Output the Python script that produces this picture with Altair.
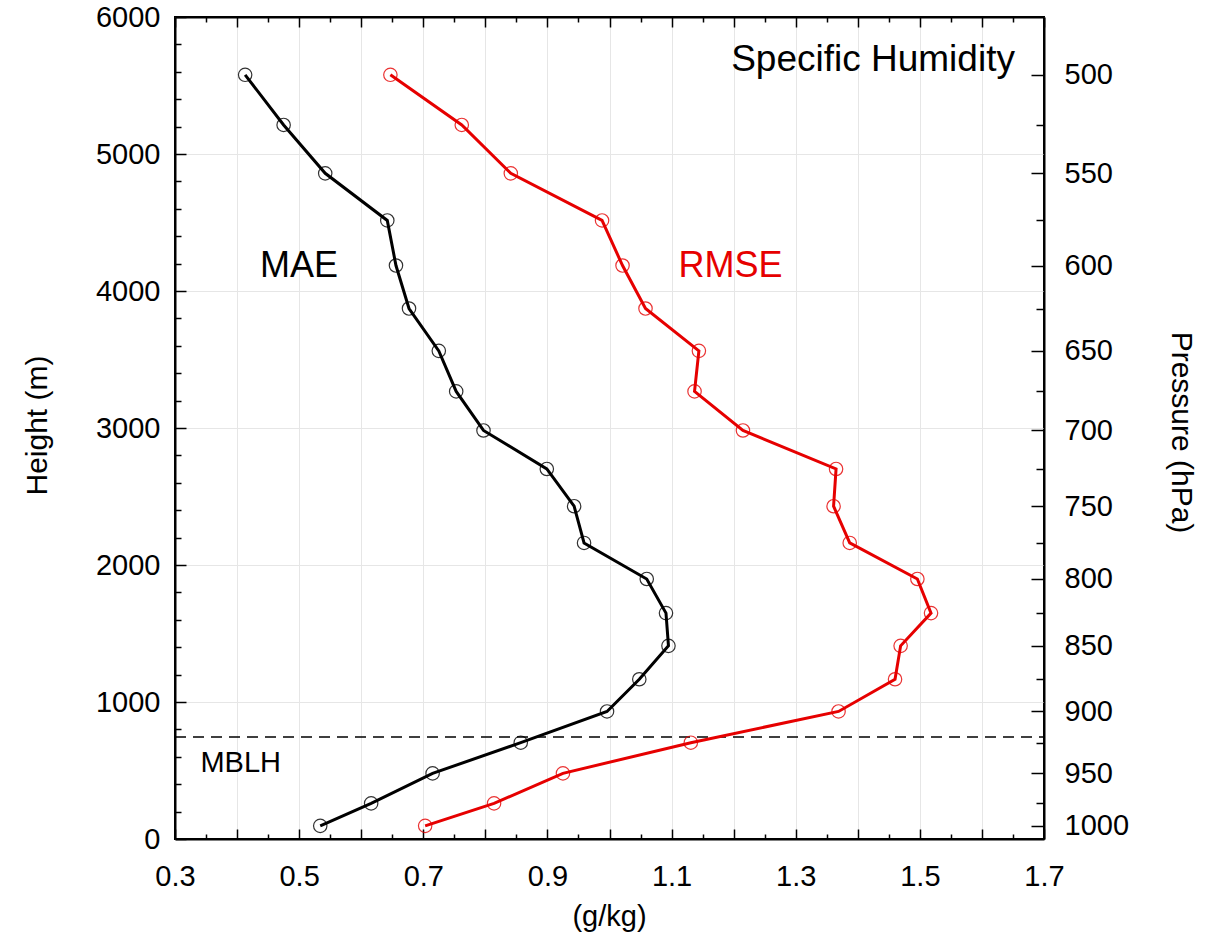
import altair as alt
import pandas as pd

# ---------------- data ----------------
pressure_levels = [500, 525, 550, 575, 600, 625, 650, 675, 700, 725, 750,
                   775, 800, 825, 850, 875, 900, 925, 950, 975, 1000]
heights = [5578, 5212, 4859, 4515, 4186, 3872, 3563, 3267, 2982, 2701, 2429,
           2161, 1898, 1649, 1410, 1166, 931, 703, 479, 260, 96]
mae = [0.413, 0.475, 0.542, 0.642, 0.656, 0.677, 0.725, 0.753, 0.797, 0.899, 0.943,
       0.959, 1.060, 1.091, 1.095, 1.048, 0.996, 0.857, 0.715, 0.616, 0.534]
rmse = [0.647, 0.762, 0.841, 0.988, 1.021, 1.058, 1.144, 1.137, 1.215, 1.365, 1.361,
        1.387, 1.496, 1.518, 1.469, 1.460, 1.369, 1.131, 0.925, 0.814, 0.703]
mblh = 745

x_ticks = [0.3, 0.35, 0.4, 0.45, 0.5, 0.55, 0.6, 0.65, 0.7, 0.75, 0.8, 0.85, 0.9, 0.95,
           1.0, 1.05, 1.1, 1.15, 1.2, 1.25, 1.3, 1.35, 1.4, 1.45, 1.5, 1.55, 1.6, 1.65, 1.7]
y_ticks = [0, 200, 400, 600, 800, 1000, 1200, 1400, 1600, 1800, 2000, 2200, 2400, 2600,
           2800, 3000, 3200, 3400, 3600, 3800, 4000, 4200, 4400, 4600, 4800, 5000,
           5200, 5400, 5600, 5800, 6000]

labels_text = ["Specific Humidity", "MAE", "RMSE", "MBLH"]
labels_x = [1.196, 0.437, 1.111, 0.341]
labels_y = [5607, 4099, 4099, 491]
labels_size = [37, 36, 36, 29]
labels_color = ["black", "black", "#e60000", "black"]

FONT = "Liberation Sans"
RED = "#e60000"

rows = []
for h, p, a, r in zip(heights, pressure_levels, mae, rmse):
    rows.append({"series": "MAE", "height": h, "pressure": p, "value": a})
    rows.append({"series": "RMSE", "height": h, "pressure": p, "value": r})
df = pd.DataFrame(rows)
lev_df = pd.DataFrame({"height": heights, "pressure": pressure_levels, "x": [0.3] * len(heights)})
txt_df = pd.DataFrame({"text": labels_text, "x": labels_x, "y": labels_y,
                       "size": labels_size, "color": labels_color})
mblh_df = pd.DataFrame({"y": [mblh], "x0": [0.3], "x1": [1.7]})

xs = alt.Scale(domain=[0.3, 1.7], nice=False, zero=False)
ys = alt.Scale(domain=[0, 6000], nice=False, zero=False)

x_axis = alt.Axis(
    values=x_ticks, tickCount=200,
    labelExpr="round(datum.value*100) % 20 == 10 ? format(datum.value, '.1f') : ''",
    tickSize={"expr": "round(datum.value*100) % 10 == 0 ? -10 : -5"},
    labelPadding=33, labelOverlap=False, labelFlush=False,
    grid=True, gridColor="#e6e6e6", gridWidth=1,
    gridOpacity={"condition": {"test": "round(datum.value*100) % 10 == 0", "value": 1}, "value": 0},
    domainColor="black", domainWidth=2, tickColor="black", tickWidth=1.5,
    labelFont=FONT, labelFontSize=29, labelColor="black",
    title="(g/kg)", titleFont=FONT, titleFontSize=29, titleFontWeight="normal",
    titleColor="black", titleX=434, titleY=77, titleAlign="center", titleBaseline="middle",
)
y_axis = alt.Axis(
    values=y_ticks, tickCount=200,
    labelExpr="datum.value % 1000 == 0 ? format(datum.value, 'd') : ''",
    tickSize={"expr": "datum.value % 1000 == 0 ? -11 : -6"},
    labelPadding=26, labelOverlap=False, labelFlush=False,
    grid=True, gridColor="#e6e6e6", gridWidth=1,
    gridOpacity={"condition": {"test": "datum.value % 1000 == 0", "value": 1}, "value": 0},
    domainColor="black", domainWidth=2, tickColor="black", tickWidth=1.5,
    labelFont=FONT, labelFontSize=29, labelColor="black",
    title="Height (m)", titleFont=FONT, titleFontSize=30, titleFontWeight="normal",
    titleColor="black", titleX=-138, titleY=408, titleAngle=-90,
    titleAlign="center", titleBaseline="middle",
)

PL = "[" + ",".join(str(p) for p in pressure_levels) + "]"
HL = "[" + ",".join(str(h) for h in heights) + "]"
PEXPR = f"{PL}[indexof({HL}, datum.value)]"

x_top_axis = alt.Axis(
    orient="top", values=x_ticks, tickCount=200, labels=False, grid=False, title=None,
    tickSize={"expr": "round(datum.value*100) % 10 == 0 ? -10 : -5"},
    domainColor="black", domainWidth=2, tickColor="black", tickWidth=1.5,
)
y_right_axis = alt.Axis(
    orient="right", values=heights, tickCount=200, grid=False,
    labelExpr=f"{PEXPR} % 50 == 0 ? '' + {PEXPR} : ''",
    tickSize={"expr": f"{PEXPR} % 50 == 0 ? -13 : -8"},
    labelPadding=33, labelOverlap=False, labelFlush=False, labelAlign="left",
    domainColor="black", domainWidth=2, tickColor="black", tickWidth=1.5,
    labelFont=FONT, labelFontSize=29, labelColor="black",
    title="Pressure (hPa)", titleFont=FONT, titleFontSize=30, titleFontWeight="normal",
    titleColor="black", titleX=136, titleY=415, titleAngle=90,
    titleAlign="center", titleBaseline="middle",
)

base = alt.Chart(df)
color_scale = alt.Scale(domain=["MAE", "RMSE"], range=["black", RED])

lines = base.mark_line(strokeWidth=3).encode(
    x=alt.X("value:Q", scale=xs, axis=x_axis),
    y=alt.Y("height:Q", scale=ys, axis=y_axis),
    color=alt.Color("series:N", scale=color_scale, legend=None),
    order=alt.Order("height:Q"),
)
points = base.mark_point(shape="circle", filled=False, size=180, strokeWidth=1.2).encode(
    x=alt.X("value:Q", scale=xs),
    y=alt.Y("height:Q", scale=ys),
    color=alt.Color("series:N", scale=alt.Scale(domain=["MAE", "RMSE"], range=["#555555", "#f06060"]), legend=None),
    opacity=alt.value(0.8),
)
rule = alt.Chart(mblh_df).mark_rule(color="black", strokeWidth=1.5, strokeDash=[11, 7]).encode(
    x=alt.X("x0:Q", scale=xs), x2="x1:Q", y=alt.Y("y:Q", scale=ys),
)
texts = alt.Chart(txt_df).mark_text(align="left", baseline="alphabetic", font=FONT).encode(
    x=alt.X("x:Q", scale=xs),
    y=alt.Y("y:Q", scale=ys),
    text="text:N",
    size=alt.Size("size:Q", scale=None, legend=None),
    color=alt.Color("color:N", scale=None, legend=None),
)

main = alt.layer(rule, lines, points, texts)

aux = alt.Chart(lev_df).mark_point(opacity=0).encode(
    x=alt.X("x:Q", scale=xs, axis=x_top_axis),
    y=alt.Y("height:Q", scale=ys, axis=y_right_axis),
)

chart = alt.layer(main, aux).resolve_scale(
    x="independent", y="independent"
).properties(
    width=869, height=822,
    padding={"left": 175, "top": 17, "right": 162, "bottom": 100},
    autosize="none",
    background="white",
).configure_view(
    stroke="black", strokeWidth=2
)

chart.save("out.html", embed_options={"renderer": "svg", "actions": False})
